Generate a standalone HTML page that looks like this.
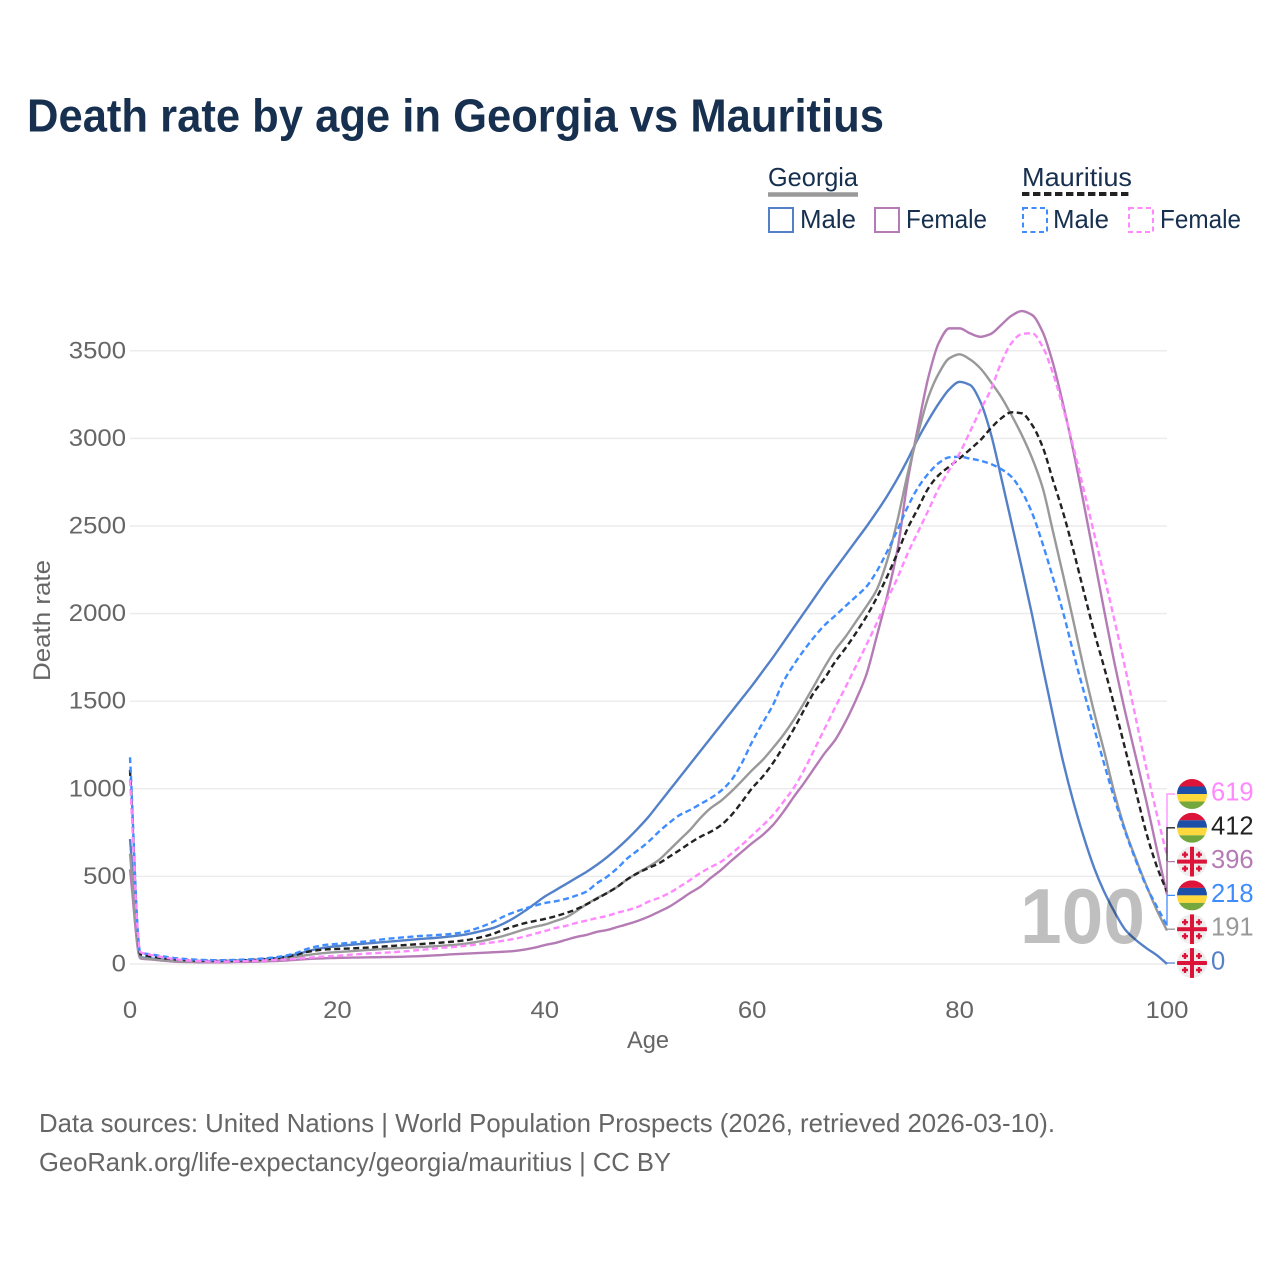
<!DOCTYPE html>
<html lang="en">
<head>
<meta charset="utf-8">
<title>Death rate by age in Georgia vs Mauritius</title>
<style>
html,body{margin:0;padding:0;background:#fff;}
svg{display:block;font-family:"Liberation Sans",sans-serif;}
</style>
</head>
<body>
<svg id="chart" width="1280" height="1280" viewBox="0 0 1280 1280" xmlns="http://www.w3.org/2000/svg">
  <defs>
    <clipPath id="flag-clip"><circle cx="0" cy="0" r="15"></circle></clipPath>
  </defs>
  <rect x="0" y="0" width="1280" height="1280" fill="#ffffff"></rect>
  <text x="27" y="131.5" font-size="46" font-weight="700" fill="#17304f" textLength="857" lengthAdjust="spacingAndGlyphs">Death rate by age in Georgia vs Mauritius</text>

  <g font-size="26" fill="#17304f">
    <text x="768" y="186" textLength="90" lengthAdjust="spacingAndGlyphs">Georgia</text>
    <line x1="768" y1="194.5" x2="858" y2="194.5" stroke="#999999" stroke-width="4.5"></line>
    <text x="1022" y="186" textLength="110" lengthAdjust="spacingAndGlyphs">Mauritius</text>
    <line x1="1022" y1="194" x2="1132" y2="194" stroke="#222222" stroke-width="4" stroke-dasharray="7.4 3.6"></line>
    <rect x="769" y="208" width="24" height="24" fill="none" stroke="#5480c8" stroke-width="2"></rect>
    <text x="800" y="228" textLength="56" lengthAdjust="spacingAndGlyphs">Male</text>
    <rect x="875" y="208" width="24" height="24" fill="none" stroke="#b57bb5" stroke-width="2"></rect>
    <text x="906" y="228" textLength="81" lengthAdjust="spacingAndGlyphs">Female</text>
    <rect x="1023" y="208" width="24" height="24" fill="none" stroke="#3f8cff" stroke-width="2" stroke-dasharray="5 3.5"></rect>
    <text x="1053" y="228" textLength="56" lengthAdjust="spacingAndGlyphs">Male</text>
    <rect x="1129" y="208" width="24" height="24" fill="none" stroke="#ff88ff" stroke-width="2" stroke-dasharray="5 3.5"></rect>
    <text x="1160" y="228" textLength="81" lengthAdjust="spacingAndGlyphs">Female</text>
  </g>

  <g id="grid"></g>
  <g id="y-ticks" font-size="24" fill="#666666" text-anchor="end"></g>
  <g id="x-ticks" font-size="24" fill="#666666" text-anchor="middle"></g>
  <text x="648" y="1048" font-size="24" fill="#666666" text-anchor="middle" textLength="42" lengthAdjust="spacingAndGlyphs">Age</text>
  <text transform="translate(50,620.5) rotate(-90)" font-size="24" fill="#666666" text-anchor="middle" textLength="121" lengthAdjust="spacingAndGlyphs">Death rate</text>

  <g id="series"></g>
  <text x="1020" y="943" font-size="78" font-weight="700" fill="rgba(0,0,0,0.25)" textLength="125" lengthAdjust="spacingAndGlyphs">100</text>
  <g id="end-labels"></g>

  <g font-size="26" fill="#666666">
    <text x="39" y="1132" textLength="1016" lengthAdjust="spacingAndGlyphs">Data sources: United Nations | World Population Prospects (2026, retrieved 2026-03-10).</text>
    <text x="39" y="1171" textLength="632" lengthAdjust="spacingAndGlyphs">GeoRank.org/life-expectancy/georgia/mauritius | CC BY</text>
  </g>
</svg>

<script>
var yTickValues = [0, 500, 1000, 1500, 2000, 2500, 3000, 3500];
var xTickValues = [0, 20, 40, 60, 80, 100];
var georgiaMale = [
713,40,32,26,23,20,18,17,17,18,
19,21,24,28,33,42,55,70,85,95,
102,108,113,118,123,128,133,138,143,147,
152,158,165,176,190,205,230,262,300,342,
385,420,455,490,525,565,610,660,715,775,
840,915,990,1065,1140,1215,1290,1365,1440,1515,
1590,1670,1750,1835,1920,2005,2090,2175,2255,2335,
2415,2495,2580,2670,2770,2880,3000,3105,3200,3280,
3323,3305,3210,3030,2780,2520,2260,1990,1700,1420,
1150,920,720,545,405,290,194,137,91,51,
0];
var georgiaFemale = [
540,32,26,20,15,12,11,10,10,10,
11,12,13,15,17,20,24,28,31,33,
35,36,37,38,39,40,41,43,45,48,
51,55,58,61,64,67,70,74,82,93,
108,120,137,154,166,183,194,211,228,247,
270,298,327,365,405,441,491,537,590,640,
690,736,793,868,953,1033,1119,1204,1279,1383,
1507,1650,1868,2097,2363,2760,3067,3352,3546,3628,
3628,3600,3580,3596,3647,3700,3727,3704,3609,3430,
3190,2920,2620,2310,2000,1700,1430,1180,930,660,
396];
var georgiaTotal = [
630,36,28,22,19,16,15,14,14,14,
15,17,19,22,26,32,40,50,58,64,
68,72,76,80,84,88,91,94,97,100,
104,108,114,122,132,145,160,178,197,212,
225,245,265,300,340,375,405,441,485,521,
555,594,650,708,765,833,890,932,985,1045,
1107,1164,1233,1307,1393,1490,1592,1697,1792,1868,
1954,2040,2135,2300,2530,2800,3030,3238,3372,3457,
3480,3451,3400,3323,3238,3133,3019,2886,2720,2470,
2215,1950,1680,1430,1200,960,760,600,450,310,
191];
var mauritiusMale = [
1180,65,55,45,36,30,26,23,22,22,
23,25,28,32,38,48,62,85,100,110,
115,120,125,130,138,145,150,155,160,163,
167,172,180,195,215,240,270,295,315,332,
348,358,371,390,413,460,498,547,605,650,
698,755,806,850,879,913,947,989,1050,1147,
1269,1375,1478,1611,1707,1792,1868,1935,1988,2043,
2097,2153,2240,2353,2477,2610,2720,2800,2860,2892,
2895,2885,2873,2854,2825,2781,2696,2573,2400,2205,
2003,1770,1550,1340,1130,930,750,590,445,330,
218];
var mauritiusFemale = [
1050,68,52,40,30,23,19,16,14,14,
15,16,18,20,23,26,30,35,40,44,
47,52,56,60,63,66,70,75,80,86,
92,96,102,108,116,124,133,143,156,172,
188,205,217,234,247,262,274,293,308,327,
356,377,405,441,479,519,553,584,630,680,
735,790,850,925,1005,1107,1225,1345,1465,1580,
1700,1820,1945,2078,2203,2345,2468,2591,2717,2820,
2915,3038,3162,3276,3430,3544,3596,3600,3523,3372,
3170,2945,2700,2450,2200,1945,1680,1400,1120,860,
619];
var mauritiusTotal = [
1107,55,44,35,28,23,20,18,18,18,
19,21,23,27,32,40,52,68,78,84,
86,88,91,94,98,102,106,110,114,118,
122,127,133,142,155,172,195,215,232,245,
257,272,290,312,340,372,405,441,485,520,
548,575,612,650,690,726,755,793,850,925,
1004,1069,1147,1240,1340,1450,1554,1632,1725,1803,
1889,1982,2089,2210,2345,2488,2602,2717,2791,2839,
2886,2937,2990,3057,3114,3149,3143,3076,2953,2762,
2573,2355,2120,1890,1680,1455,1220,985,750,560,
412];

var SVG_NS = 'http://www.w3.org/2000/svg';
var DIGIT_WIDTH = 14.3;
function xScale(age) { return 130 + age * 10.37; }
function yScale(v) { return 964 - v * 0.1752; }
function make(tag, attrs, parent) {
  var el = document.createElementNS(SVG_NS, tag);
  for (var k in attrs) { el.setAttribute(k, attrs[k]); }
  parent.appendChild(el);
  return el;
}

var gridG = document.getElementById('grid');
var yG = document.getElementById('y-ticks');
yTickValues.forEach(function (v) {
  var line = make('line', {x1: 130, x2: 1167, y1: yScale(v), y2: yScale(v), stroke: '#ececec', 'stroke-width': 1.5}, gridG);
  
  
  var t = make('text', {x: 126, y: yScale(v) + 7.5, textLength: String(v).length * DIGIT_WIDTH, lengthAdjust: 'spacingAndGlyphs'}, yG);
  
  
  t.textContent = String(v);
});

var xG = document.getElementById('x-ticks');
xTickValues.forEach(function (v) {
  var t = make('text', {x: xScale(v), y: 1018, textLength: String(v).length * DIGIT_WIDTH, lengthAdjust: 'spacingAndGlyphs'}, xG);
  
  
  t.textContent = String(v);
});

/* Monotone cubic path through the data points, so the lines stay smooth */
function linePath(values) {
  var n = values.length;
  var px = values.map(function (v, i) { return xScale(i); });
  var py = values.map(function (v) { return yScale(v); });
  var h = px[1] - px[0];
  var s = [];
  var i;
  for (i = 0; i < n - 1; i++) { s.push((py[i + 1] - py[i]) / h); }
  var m = [s[0]];
  for (i = 1; i < n - 1; i++) {
    m.push(s[i - 1] * s[i] <= 0 ? 0 : 2 * s[i - 1] * s[i] / (s[i - 1] + s[i]));
  }
  m.push(s[n - 2]);
  var d = 'M' + px[0].toFixed(2) + ' ' + py[0].toFixed(2);
  for (i = 0; i < n - 1; i++) {
    d += ' C' + (px[i] + h / 3).toFixed(2) + ' ' + (py[i] + m[i] * h / 3).toFixed(2) + ' ' +
      (px[i + 1] - h / 3).toFixed(2) + ' ' + (py[i + 1] - m[i + 1] * h / 3).toFixed(2) + ' ' +
      px[i + 1].toFixed(2) + ' ' + py[i + 1].toFixed(2);
  }
  return d;
}

var seriesG = document.getElementById('series');
var labelsG = document.getElementById('end-labels');

function drawSeries(name, values, color, dashed) {
  var p = make('path', {d: linePath(values), fill: 'none', stroke: color, 'stroke-width': 2.4, 'stroke-linejoin': 'round'}, seriesG);
  if (dashed) { p.setAttribute('stroke-dasharray', '6 3.5'); }
  
  
}

drawSeries('georgia-male', georgiaMale, '#5480c8', false);
drawSeries('georgia-female', georgiaFemale, '#b57bb5', false);
drawSeries('georgia-total', georgiaTotal, '#999999', false);
drawSeries('mauritius-total', mauritiusTotal, '#222222', true);
drawSeries('mauritius-male', mauritiusMale, '#3f8cff', true);
drawSeries('mauritius-female', mauritiusFemale, '#ff88ff', true);

function drawMauritiusFlag(g) {
  var inner = make('g', {'clip-path': 'url(#flag-clip)'}, g);
  make('rect', {x: -15, y: -15, width: 30, height: 7.5, fill: '#dc1439'}, inner);
  make('rect', {x: -15, y: -7.5, width: 30, height: 7.5, fill: '#1c50a8'}, inner);
  make('rect', {x: -15, y: 0, width: 30, height: 7.5, fill: '#ffd83d'}, inner);
  make('rect', {x: -15, y: 7.5, width: 30, height: 7.5, fill: '#74a83f'}, inner);
}
function drawGeorgiaFlag(g) {
  var inner = make('g', {'clip-path': 'url(#flag-clip)'}, g);
  make('rect', {x: -15, y: -15, width: 30, height: 30, fill: '#eeeeee'}, inner);
  make('rect', {x: -15, y: -2, width: 30, height: 4, fill: '#dc1439'}, inner);
  make('rect', {x: -2, y: -15, width: 4, height: 30, fill: '#dc1439'}, inner);
  [[-7, -7], [7, -7], [-7, 7], [7, 7]].forEach(function (c) {
    make('rect', {x: c[0] - 3, y: c[1] - 1.2, width: 6, height: 2.4, fill: '#dc1439'}, inner);
    make('rect', {x: c[0] - 1.2, y: c[1] - 3, width: 2.4, height: 6, fill: '#dc1439'}, inner);
  });
}

function drawEndLabel(name, values, slot, color, isGeorgia) {
  var last = values[values.length - 1];
  var cy = 794 + slot * 33.8;
  var ey = yScale(last);
  var b = make('path', {d: 'M1167 ' + ey.toFixed(2) + ' L1167 ' + cy + ' L1175 ' + cy, fill: 'none', stroke: color, 'stroke-width': 1.3}, labelsG);
  
  
  var g = make('g', {transform: 'translate(1192,' + cy + ')'}, labelsG);
  
  
  if (isGeorgia) { drawGeorgiaFlag(g); } else { drawMauritiusFlag(g); }
  var t = make('text', {x: 1211, y: cy + 6.5, 'font-size': 26, fill: color, textLength: String(last).length * 14.2, lengthAdjust: 'spacingAndGlyphs'}, labelsG);
  
  
  t.textContent = String(last);
}

drawEndLabel('mauritius-female', mauritiusFemale, 0, '#ff88ff', false);
drawEndLabel('mauritius-total', mauritiusTotal, 1, '#222222', false);
drawEndLabel('georgia-female', georgiaFemale, 2, '#b57bb5', true);
drawEndLabel('mauritius-male', mauritiusMale, 3, '#3f8cff', false);
drawEndLabel('georgia-total', georgiaTotal, 4, '#999999', true);
drawEndLabel('georgia-male', georgiaMale, 5, '#5480c8', true);
</script>
</body>
</html>
